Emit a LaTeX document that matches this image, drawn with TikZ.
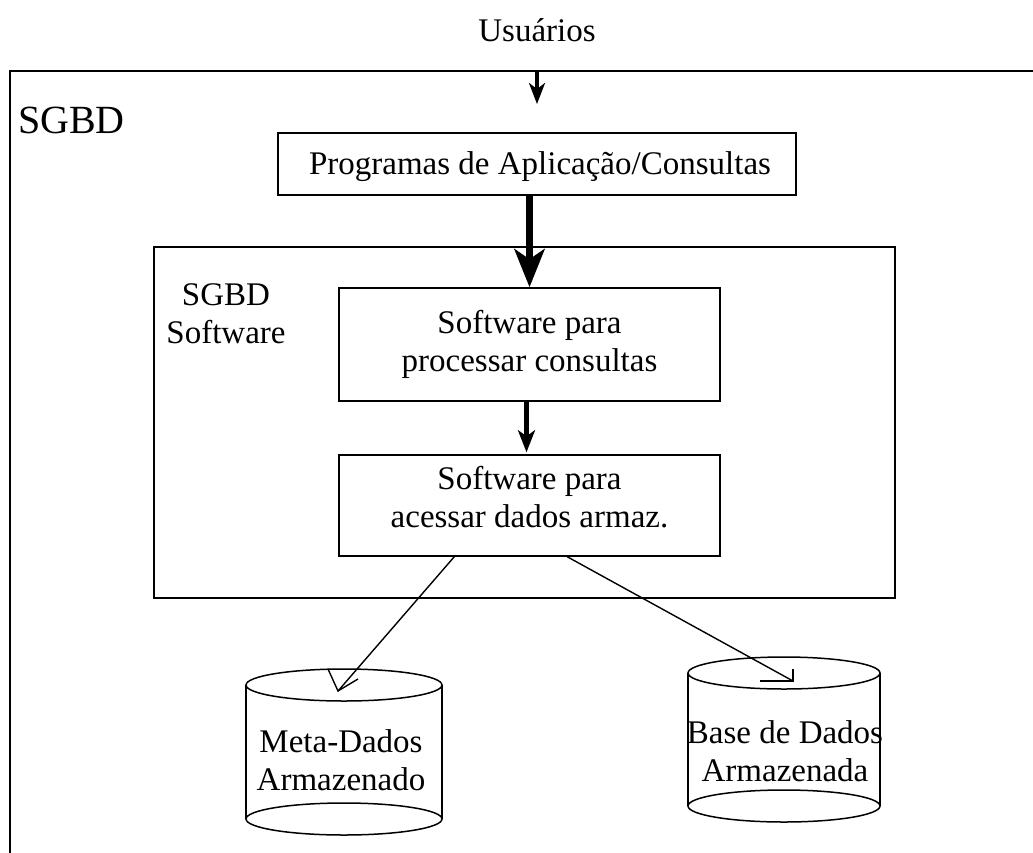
\documentclass[tikz,border=0pt]{standalone}
\usepackage{fontspec}
\setmainfont{Liberation Serif}
\usetikzlibrary{arrows.meta,calc}
\begin{document}
\begin{tikzpicture}[x=1pt,y=-1pt,
  txtfont/.style={font=\fontsize{33}{38}\selectfont},
  box/.style={draw, line width=1.5pt, inner sep=0pt, align=center, txtfont},
  txt/.style={inner sep=0pt, align=center, txtfont},
  thin/.style={line width=1.4pt},
  cyl/.style={line width=1.5pt}]
\useasboundingbox (0,0) rectangle (1033,852);
\clip (0,0) rectangle (1033,852);
% outer frame
\draw[line width=1.5pt] (10,900) -- (10,71) -- (1100,71);
\coordinate (usrin) at (537,71);
\coordinate (usrtip) at (537,104);
\node[txt] (usr) at (537,30) {Usuários};
\node[inner sep=0pt, font=\fontsize{40}{44}\selectfont, anchor=base] (sgbd) at (71.5,133) {SGBD};
% programs
\node[box, minimum width=518, minimum height=62] (prog) at (537,164) {};
\node[txt] (progt) at (540,167) {Programas de Aplicação/Consultas};
% inner box
\node[draw, line width=1.5pt, minimum width=741, minimum height=351, inner sep=0pt] (inner) at (524.5,422.5) {};
\node[txt] (swlab) at (226,314) {SGBD\\Software};
\node[box, minimum width=381, minimum height=113] (sw1) at (529.5,344.5) {Software para\\processar consultas};
\node[box, minimum width=381, minimum height=101] (sw2) at (529.5,505.5) {};
\node[txt] (sw2t) at (529.5,497) {Software para\\acessar dados armaz.};
% arrows
\draw[line width=3.5pt, -{Stealth[length=21pt,width=16pt,inset=6pt]}] (usrin) -- (usrtip);
\draw[line width=7pt, -{Stealth[length=38pt,width=30pt,inset=10pt]}] (sw1.north |- prog.south) -- (sw1.north);
\draw[line width=4.5pt, -{Stealth[length=22pt,width=17pt,inset=6pt]}] ($(sw1.south)+(-3,0)$) -- ($(sw2.north)+(-3,-2)$);
% cylinders
\coordinate (c1t) at (344,685);
\coordinate (c1b) at (344,819);
\draw[cyl] (c1t) ellipse [x radius=98, y radius=16];
\draw[cyl] (c1b) ellipse [x radius=98, y radius=16];
\draw[cyl] ($(c1t)+(-98,0)$) -- ($(c1b)+(-98,0)$);
\draw[cyl] ($(c1t)+(98,0)$) -- ($(c1b)+(98,0)$);
\node[txt] (meta) at (341,760) {Meta-Dados\\Armazenado};
\coordinate (c2t) at (784,673);
\coordinate (c2b) at (784,806);
\draw[cyl] (c2t) ellipse [x radius=96, y radius=16];
\draw[cyl] (c2b) ellipse [x radius=96, y radius=16];
\draw[cyl] ($(c2t)+(-96,0)$) -- ($(c2b)+(-96,0)$);
\draw[cyl] ($(c2t)+(96,0)$) -- ($(c2b)+(96,0)$);
\node[txt] (base) at (785,751) {Base de Dados\\Armazenada};
% thin arrows
\coordinate (s1) at ($(sw2.south west)+(116,0)$);
\coordinate (t1) at (338,691);
\draw[thin] (s1) -- (t1);
\draw[thin] ($(t1)+(-10,-22)$) -- (t1) -- ($(t1)+(20,-12)$);
\coordinate (s2) at ($(sw2.south west)+(229,0)$);
\coordinate (t2) at (793,681);
\draw[thin] (s2) -- (t2);
\draw[thin] ($(t2)+(-33,0)$) -- (t2) -- ($(t2)+(0,-12)$);
\end{tikzpicture}
\end{document}
